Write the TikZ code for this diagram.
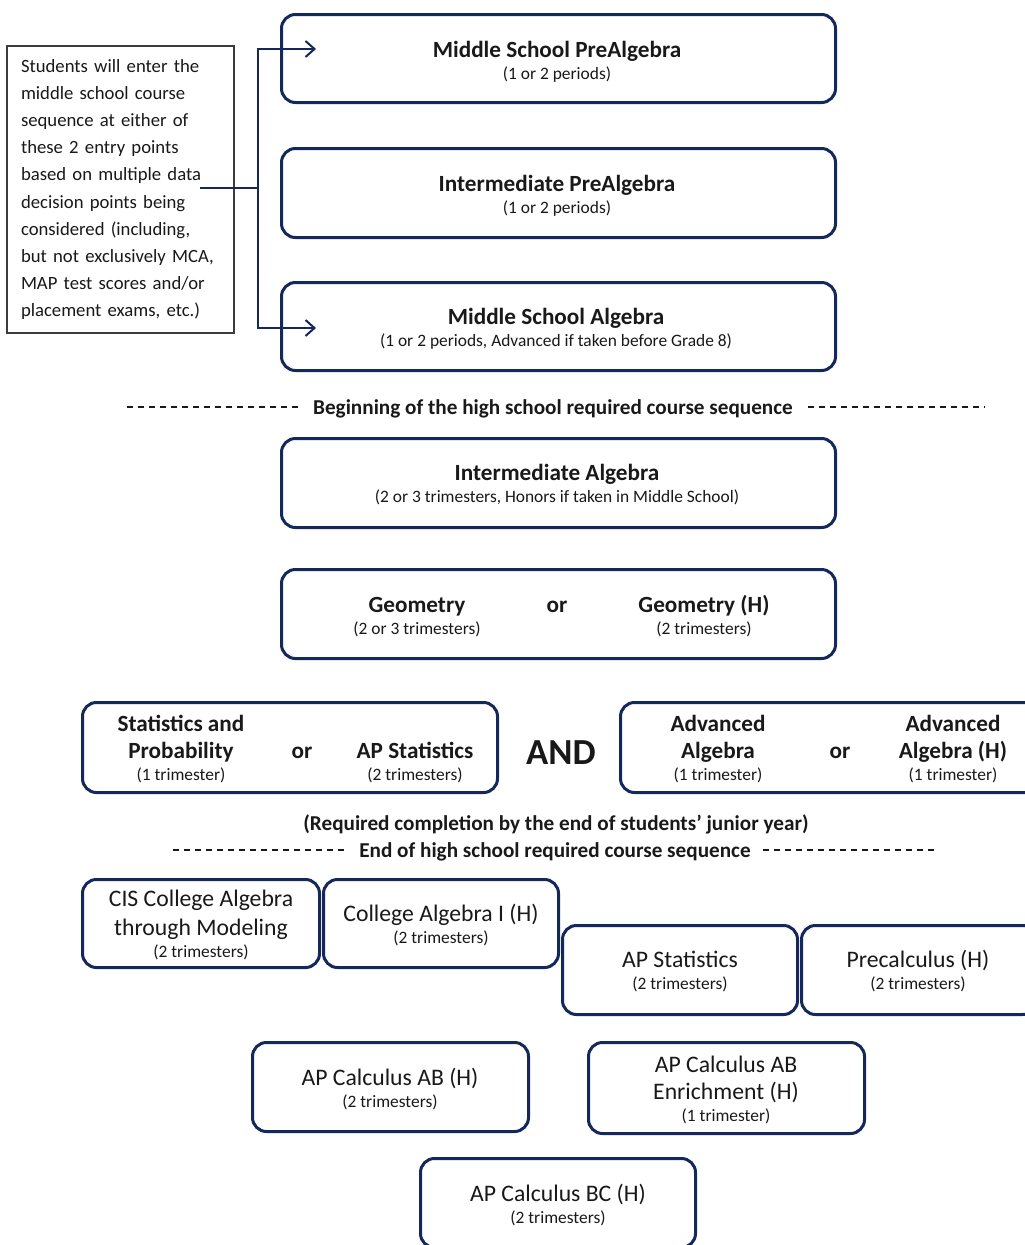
\documentclass[tikz,border=0pt]{standalone}
\usepackage{fontspec}
\setmainfont{Carlito}
\usetikzlibrary{arrows.meta,calc}
\definecolor{navy}{RGB}{20,40,92}
\definecolor{ink}{RGB}{25,25,25}
\begin{document}
\begin{tikzpicture}[x=1pt,y=-1pt,
  box/.style={draw=navy,line width=3pt,rounded corners=14pt,fill=white,inner sep=0pt},
  tt/.style={font=\bfseries\fontsize{23.2}{27}\selectfont,text=ink,inner sep=0pt,anchor=mid,yshift=-6pt},
  st/.style={font=\fontsize{17.4}{20}\selectfont,text=ink,inner sep=0pt,anchor=mid,yshift=-4.5pt},
  rt/.style={font=\fontsize{23.7}{28}\selectfont,text=ink,inner sep=0pt,anchor=mid,yshift=-6pt},
  ht/.style={font=\bfseries\fontsize{21.2}{25}\selectfont,text=ink,inner sep=0pt,anchor=mid,yshift=-5pt},
  dashline/.style={draw=ink,line width=1.4pt,dash pattern=on 6pt off 5pt},
  conn/.style={draw=navy,line width=2pt},
  note/.style={draw=ink!85,line width=1.3pt,fill=white,align=left,text width=199pt,
    inner xsep=14pt,inner ysep=0pt,minimum width=227pt,minimum height=287pt,
    font=\fontsize{18.7}{27.1}\selectfont,text=ink}
]
\useasboundingbox (0,0) rectangle (1025,1245);
\clip (0,0) rectangle (1025,1245);

% left note
\node[note] (nt) at (120.5,189.5) {Students will enter the\\ middle school course\\ sequence at either of\\ these 2 entry points\\ based on multiple data\\ decision points being\\ considered (including,\\ but not exclusively MCA,\\ MAP test scores and/or\\ placement exams, etc.)};

% middle school boxes
\node[box,minimum width=554pt,minimum height=88pt] (b1) at (558.5,58.5) {};
\node[tt] (b1t) at (557,49) {Middle School PreAlgebra};
\node[st] (b1s) at (557,73) {(1 or 2 periods)};

\node[box,minimum width=554pt,minimum height=89pt] (b2) at (558.5,193) {};
\node[tt] (b2t) at (557,183) {Intermediate PreAlgebra};
\node[st] (b2s) at (557,207) {(1 or 2 periods)};

\node[box,minimum width=554pt,minimum height=88pt] (b3) at (558.5,326.5) {};
\node[tt] (b3t) at (556,316) {Middle School Algebra};
\node[st] (b3s) at (556,340) {(1 or 2 periods, Advanced if taken before Grade 8)};

% connectors
\coordinate (s) at (200,188);
\coordinate (j) at (258,188);
\coordinate (a1) at (316,49);
\coordinate (a3) at (316,328);
\draw[conn] (s) -- (j);
\draw[conn,-{Straight Barb[length=9pt,width=16pt,line width=2pt]}] (j) |- (a1);
\draw[conn,-{Straight Barb[length=9pt,width=16pt,line width=2pt]}] (j) |- (a3);

% dashed line 1
\coordinate (d1a) at (127,407); \coordinate (d1b) at (302,407);
\coordinate (d1c) at (808,407); \coordinate (d1d) at (985,407);
\draw[dashline] (d1a) -- (d1b);
\draw[dashline] (d1c) -- (d1d);
\node[ht] (hs1) at (553,407) {Beginning of the high school required course sequence};

% high school
\node[box,minimum width=554pt,minimum height=89pt] (b4) at (558.5,483) {};
\node[tt] (b4t) at (557,472) {Intermediate Algebra};
\node[st] (b4s) at (557,496) {(2 or 3 trimesters, Honors if taken in Middle School)};

\node[box,minimum width=554pt,minimum height=89pt] (b5) at (558.5,614) {};
\node[tt] (b5t) at (417,604) {Geometry};
\node[st] (b5s) at (417,628) {(2 or 3 trimesters)};
\node[tt] (b5o) at (557,604) {or};
\node[tt] (b5u) at (704,604) {Geometry (H)};
\node[st] (b5v) at (704,628) {(2 trimesters)};

\node[box,minimum width=415pt,minimum height=90pt] (b6) at (290,747.5) {};
\node[tt] (b6t) at (181,723) {Statistics and};
\node[tt] (b6u) at (181,750) {Probability};
\node[st] (b6s) at (181,774) {(1 trimester)};
\node[tt] (b6o) at (302,750) {or};
\node[tt] (b6w) at (415,750) {AP Statistics};
\node[st] (b6x) at (415,774) {(2 trimesters)};

\node[font=\bfseries\fontsize{36.7}{42}\selectfont,text=ink,inner sep=0pt,anchor=mid,yshift=-10pt] (and) at (561,752) {AND};

\node[box,minimum width=420pt,minimum height=90pt] (b7) at (830.5,747.5) {};
\node[tt] (b7t) at (718,723) {Advanced};
\node[tt] (b7u) at (718,750) {Algebra};
\node[st] (b7s) at (718,774) {(1 trimester)};
\node[tt] (b7o) at (840,750) {or};
\node[tt] (b7w) at (953,723) {Advanced};
\node[tt] (b7x) at (953,750) {Algebra (H)};
\node[st] (b7y) at (953,774) {(1 trimester)};

\node[ht] (req) at (556,823) {(Required completion by the end of students’ junior year)};

% dashed line 2
\coordinate (d2a) at (173,850); \coordinate (d2b) at (348,850);
\coordinate (d2c) at (763,850); \coordinate (d2d) at (938,850);
\draw[dashline] (d2a) -- (d2b);
\draw[dashline] (d2c) -- (d2d);
\node[ht] (hs2) at (555,850) {End of high school required course sequence};

% electives
\node[box,minimum width=237pt,minimum height=88pt] (b8) at (201,923.5) {};
\node[rt] (b8t) at (201,898) {CIS College Algebra};
\node[rt] (b8u) at (201,927) {through Modeling};
\node[st] (b8s) at (201,951) {(2 trimesters)};

\node[box,minimum width=235pt,minimum height=88pt] (b9) at (441,923.5) {};
\node[rt] (b9t) at (441,913) {College Algebra I (H)};
\node[st] (b9s) at (441,937) {(2 trimesters)};

\node[box,minimum width=235pt,minimum height=89pt] (b10) at (680,970) {};
\node[rt] (b10t) at (680,959) {AP Statistics};
\node[st] (b10s) at (680,983) {(2 trimesters)};

\node[box,minimum width=235pt,minimum height=89pt] (b11) at (919,970) {};
\node[rt] (b11t) at (918,959) {Precalculus (H)};
\node[st] (b11s) at (918,983) {(2 trimesters)};

\node[box,minimum width=276pt,minimum height=89pt] (b12) at (390.5,1087) {};
\node[rt] (b12t) at (390,1077) {AP Calculus AB (H)};
\node[st] (b12s) at (390,1101) {(2 trimesters)};

\node[box,minimum width=276pt,minimum height=91pt] (b13) at (726.5,1088) {};
\node[rt] (b13t) at (726,1064) {AP Calculus AB};
\node[rt] (b13u) at (726,1091) {Enrichment (H)};
\node[st] (b13s) at (726,1115) {(1 trimester)};

\node[box,minimum width=275pt,minimum height=89pt] (b14) at (558,1203) {};
\node[rt] (b14t) at (558,1193) {AP Calculus BC (H)};
\node[st] (b14s) at (558,1217) {(2 trimesters)};
\end{tikzpicture}
\end{document}
